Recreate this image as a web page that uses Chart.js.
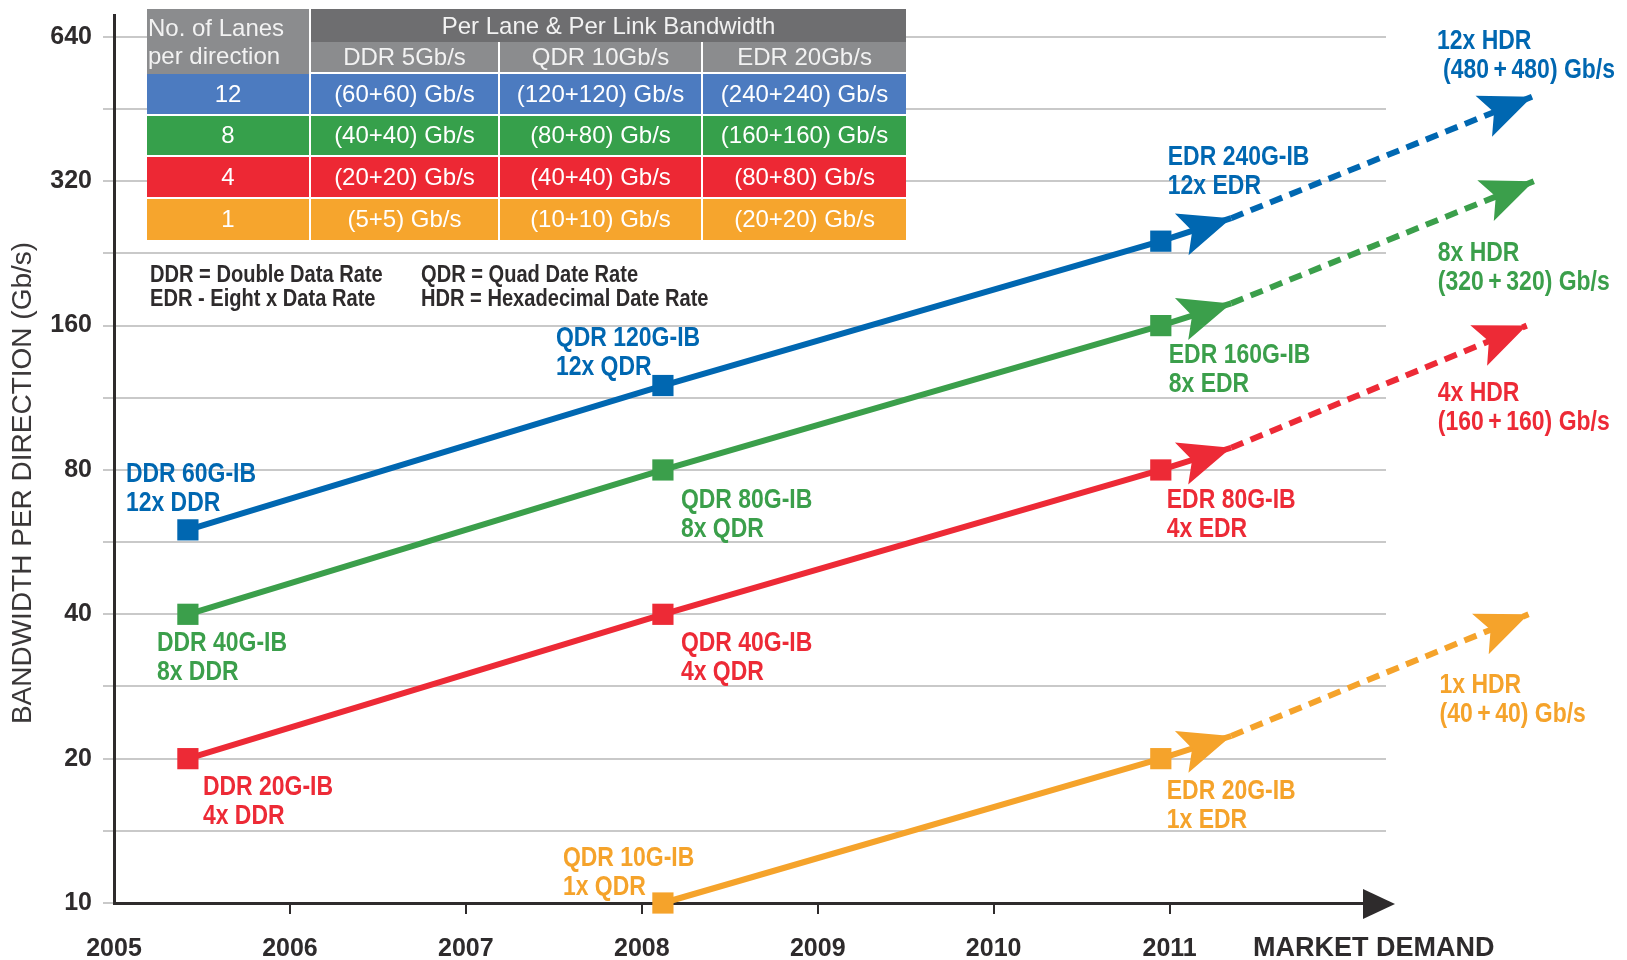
<!DOCTYPE html>
<html>
<head>
<meta charset="utf-8">
<title>InfiniBand bandwidth roadmap</title>
<script src="https://cdn.jsdelivr.net/npm/chart.js@4.4.1/dist/chart.umd.min.js"></script>
<style>
  html, body { margin: 0; padding: 0; background: #fff; }
  #wrap { position: relative; width: 1627px; height: 960px; overflow: hidden; }
  #chart { position: absolute; left: 0; top: 0; }
  #lanes {
    position: absolute; left: 147px; top: 9px; width: 759px;
    border-collapse: separate; border-spacing: 0; table-layout: fixed;
    font-family: 'Liberation Sans', Arial, sans-serif; font-size: 24px; color: #fff;
  }
  #lanes th, #lanes td {
    padding: 0; text-align: center; font-weight: normal; white-space: nowrap; overflow: hidden;
    border-right: 2px solid #fff; border-bottom: 2px solid #fff;
  }
  #lanes tr > :last-child { border-right: 0; }
  #lanes .band th { background: #6e6e70; height: 33px; border-bottom: 0; color: #f2f2f2; }
  #lanes .rates th { background: #8b8c8e; height: 30px; color: #f2f2f2; }
  #lanes th.lanehead { background: #8b8c8e; text-align: left; line-height: 28px; padding-left: 1px; color: #f2f2f2; }
  #lanes td { height: 39.5px; }
  #lanes tbody tr:last-child td { border-bottom: 0; height: 41px; }
</style>
</head>
<body>
<div id="wrap">
  <canvas id="chart" width="1627" height="960"></canvas>
  <table id="lanes"></table>
</div>
<script>
// generation milestones on the year axis (DDR, QDR, EDR)
const genNames = ['DDR', 'QDR', 'EDR'];
const genYears = [2005.42, 2008.12, 2010.95];

// bandwidth per direction, Gb/s, for each link width
const rate12x = [60, 120, 240];
const rate8x = [40, 80, 160];
const rate4x = [20, 40, 80];
const rate1x = [null, 10, 20];

// where the solid arrows stop and the HDR projection ends
const arrowYear = 2011.35;
const arrowRates = [268, 178, 89, 22.3];
const hdrYears = [2013.06, 2013.07, 2013.03, 2013.04];
const hdrRates = [480, 320, 160, 40];

// link widths and per-lane signalling rates for the table
const laneCounts = [12, 8, 4, 1];
const laneRates = [5, 10, 20];

const yearTicks = [2005, 2006, 2007, 2008, 2009, 2010, 2011];
const rateTicks = [10, 20, 40, 80, 160, 320, 640];

const noteLines = [
  ['DDR = Double Data Rate', 'QDR = Quad Date Rate'],
  ['EDR - Eight x Data Rate', 'HDR = Hexadecimal Date Rate']
];

const seriesRates = [rate12x, rate8x, rate4x, rate1x];
const lineColors = ['#0067b1', '#3b9f4b', '#ed2a36', '#f5a32b'];
const rowColors = ['#4c7bc0', '#36a04b', '#ed2834', '#f6a52d'];
const ink = '#2e2b2c';

// label placement around each marker: [dx, dy of first baseline]
const labelOffsets = [
  [[-62, -48], [-107, -40], [7, -76]],
  [[-31, 37], [18, 38], [8, 37]],
  [[15, 36], [18, 37], [6, 38]],
  [null, [-100, -37], [6, 40]]
];
// HDR labels: [dx, dy, extra indent of 2nd line]
const hdrOffsets = [[-95, -48, 6], [-96, 80, 0], [-89, 75, 0], [-89, 79, 0]];

// ---- table ----
(function buildTable() {
  const t = document.getElementById('lanes');
  let html = '<colgroup><col style="width:164px"><col style="width:189px"><col style="width:203px"><col style="width:203px"></colgroup>';
  html += '<thead><tr class="band"><th rowspan="2" class="lanehead">No. of Lanes<br>per direction</th>' +
          '<th colspan="3">Per Lane &amp; Per Link Bandwidth</th></tr><tr class="rates">';
  genNames.forEach((g, i) => { html += '<th>' + g + ' ' + laneRates[i] + 'Gb/s</th>'; });
  html += '</tr></thead><tbody>';
  laneCounts.forEach((n, r) => {
    html += '<tr style="background:' + rowColors[r] + '"><td>' + n + '</td>';
    laneRates.forEach(v => { const b = n * v; html += '<td>(' + b + '+' + b + ') Gb/s</td>'; });
    html += '</tr>';
  });
  t.innerHTML = html + '</tbody>';
})();

// ---- condensed bold text helper ----
function hasFont(name) {
  const c = document.createElement('canvas').getContext('2d');
  const s = 'DDR 60G-IB wxyz';
  c.font = 'bold 40px monospace';
  const a = c.measureText(s).width;
  c.font = "bold 40px '" + name + "', monospace";
  return c.measureText(s).width !== a;
}
const narrowOK = hasFont('Liberation Sans Narrow');
const narrowFamily = "'Liberation Sans Narrow', 'Liberation Sans', Arial, sans-serif";

function condText(ctx, text, x, y, size, color) {
  ctx.save();
  ctx.fillStyle = color;
  ctx.textAlign = 'left';
  ctx.textBaseline = 'alphabetic';
  if (narrowOK) {
    ctx.font = 'bold ' + size + 'px ' + narrowFamily;
    ctx.fillText(text, x, y);
  } else {
    ctx.translate(x, y);
    ctx.scale(0.82, 1);
    ctx.font = 'bold ' + size + "px 'Liberation Sans', Arial, sans-serif";
    ctx.fillText(text, 0, 0);
  }
  ctx.restore();
}

function arrowHead(ctx, tip, from, color) {
  const dx = tip.x - from.x, dy = tip.y - from.y;
  const len = Math.hypot(dx, dy);
  const ux = dx / len, uy = dy / len, nx = -uy, ny = ux;
  const L = 52, W = 22, N = 41;
  ctx.save();
  ctx.fillStyle = color;
  ctx.beginPath();
  ctx.moveTo(tip.x, tip.y);
  ctx.lineTo(tip.x - L * ux + W * nx, tip.y - L * uy + W * ny);
  ctx.lineTo(tip.x - N * ux, tip.y - N * uy);
  ctx.lineTo(tip.x - L * ux - W * nx, tip.y - L * uy - W * ny);
  ctx.closePath();
  ctx.fill();
  ctx.restore();
}

// ---- datasets ----
const datasets = [];
seriesRates.forEach((rates, c) => {
  const pts = genYears.map((x, i) => ({ x: x, y: rates[i] }));
  pts.push({ x: arrowYear, y: arrowRates[c] });
  datasets.push({
    data: pts,
    borderColor: lineColors[c],
    backgroundColor: lineColors[c],
    borderWidth: 6,
    pointStyle: 'rect',
    pointRadius: pts.map((p, i) => i < genYears.length ? 15 : 0),
    pointBorderWidth: 0,
    pointBackgroundColor: lineColors[c],
    clip: false
  });
});
seriesRates.forEach((rates, c) => {
  datasets.push({
    data: [{ x: arrowYear, y: arrowRates[c] }, { x: hdrYears[c], y: hdrRates[c] }],
    borderColor: lineColors[c],
    borderWidth: 6,
    borderDash: [13, 8],
    pointRadius: 0,
    clip: false
  });
});

const decorations = {
  id: 'decorations',
  afterDatasetsDraw(chart) {
    const ctx = chart.ctx;
    const n = seriesRates.length;
    for (let c = 0; c < n; c++) {
      const solid = chart.getDatasetMeta(c).data;
      const dashed = chart.getDatasetMeta(n + c).data;
      arrowHead(ctx, solid[solid.length - 1], solid[solid.length - 2], lineColors[c]);
      arrowHead(ctx, dashed[1], dashed[0], lineColors[c]);

      // generation labels next to the markers
      seriesRates[c].forEach((r, g) => {
        if (r == null) return;
        const p = solid[g], off = labelOffsets[c][g];
        condText(ctx, genNames[g] + ' ' + r + 'G-IB', p.x + off[0], p.y + off[1], 28, lineColors[c]);
        condText(ctx, laneCounts[c] + 'x ' + genNames[g], p.x + off[0], p.y + off[1] + 29, 28, lineColors[c]);
      });

      // HDR projection labels
      const e = dashed[1], h = hdrOffsets[c], r = hdrRates[c];
      condText(ctx, laneCounts[c] + 'x HDR', e.x + h[0], e.y + h[1], 28, lineColors[c]);
      condText(ctx, '(' + r + '\u2009+\u2009' + r + ') Gb/s', e.x + h[0] + h[2], e.y + h[1] + 29, 28, lineColors[c]);
    }
  },
  afterDraw(chart) {
    const ctx = chart.ctx, area = chart.chartArea;

    // arrow at the end of the year axis
    ctx.save();
    ctx.fillStyle = ink;
    ctx.beginPath();
    ctx.moveTo(area.right + 9, area.bottom + 1);
    ctx.lineTo(area.right - 23, area.bottom - 14);
    ctx.lineTo(area.right - 23, area.bottom + 16);
    ctx.closePath();
    ctx.fill();

    ctx.font = "bold 27px 'Liberation Sans', Arial, sans-serif";
    ctx.textBaseline = 'alphabetic';
    ctx.fillText('MARKET DEMAND', area.right - 133, 956);

    // vertical axis title
    ctx.translate(23, (area.top + area.bottom) / 2 + 24);
    ctx.rotate(-Math.PI / 2);
    ctx.textAlign = 'center';
    ctx.textBaseline = 'middle';
    ctx.fillStyle = '#3a3738';
    ctx.font = "28px 'Liberation Sans', Arial, sans-serif";
    ctx.fillText('BANDWIDTH PER DIRECTION (Gb/s)', 0, 0);
    ctx.restore();

    // abbreviation notes under the table
    noteLines.forEach((line, i) => {
      condText(ctx, line[0], 150, 281.5 + i * 24.5, 24.5, ink);
      condText(ctx, line[1], 421, 281.5 + i * 24.5, 24.5, ink);
    });
  }
};

const tickFont = { family: narrowFamily, size: 25, weight: 'bold' };

new Chart(document.getElementById('chart'), {
  type: 'line',
  data: { datasets: datasets },
  options: {
    responsive: false,
    animation: false,
    events: [],
    layout: { padding: { top: 6, right: 241, left: 0, bottom: 0 } },
    plugins: { legend: { display: false }, tooltip: { enabled: false } },
    scales: {
      x: {
        type: 'linear',
        min: 2005,
        max: 2012.23,
        afterBuildTicks: s => { s.ticks = yearTicks.map(v => ({ value: v })); },
        afterFit: s => { s.height = 57; s.paddingLeft = 0; s.paddingRight = 0; },
        grid: {
          drawOnChartArea: false,
          drawTicks: true,
          tickLength: 11,
          lineWidth: 2,
          color: ctx => (ctx.tick && ctx.tick.value === yearTicks[0]) ? 'rgba(0,0,0,0)' : ink
        },
        border: { color: ink, width: 3 },
        ticks: {
          autoSkip: false, maxRotation: 0, padding: 20, color: ink, font: tickFont,
          callback: v => String(v)
        }
      },
      y: {
        type: 'logarithmic',
        min: 10,
        max: 711,
        afterBuildTicks: s => {
          const vals = [];
          rateTicks.forEach((v, i) => {
            vals.push(v);
            if (i < rateTicks.length - 1) vals.push(Math.sqrt(v * rateTicks[i + 1]));
          });
          s.ticks = vals.map(v => ({ value: v }));
        },
        afterFit: s => { s.width = 114; s.paddingTop = 0; s.paddingBottom = 0; },
        grid: { color: '#c9c9c9', lineWidth: 2, tickLength: 11, drawTicks: true },
        border: { color: ink, width: 3 },
        ticks: {
          autoSkip: false, padding: 11, color: ink, font: tickFont,
          callback: v => rateTicks.includes(v) ? String(v) : ''
        }
      }
    }
  },
  plugins: [decorations]
});
</script>
</body>
</html>
